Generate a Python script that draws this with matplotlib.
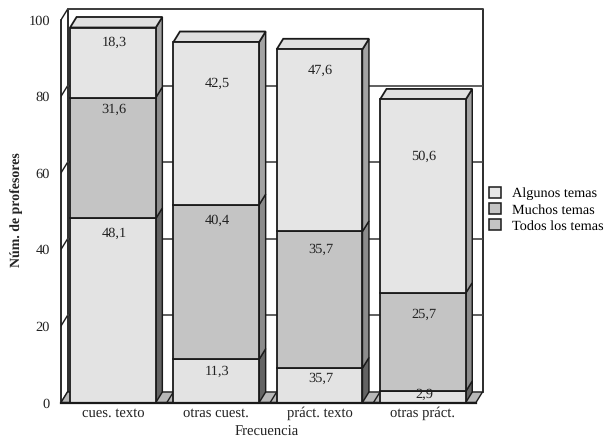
import matplotlib
matplotlib.use('Agg')
import matplotlib.pyplot as plt
from matplotlib.patches import Polygon, Patch

plt.rcParams['font.family'] = ['Liberation Serif', 'DejaVu Serif']
plt.rcParams['text.hinting'] = 'no_hinting'

categories = ['cues. texto', 'otras cuest.', 'práct. texto', 'otras práct.']
series_names = ['Todos los temas', 'Muchos temas', 'Algunos temas']
todos = [48.1, 11.3, 9.0, 2.9]
muchos = [31.6, 40.4, 35.7, 25.7]
algunos = [18.3, 42.5, 47.6, 50.6]
# printed labels, the third bar prints 35,7 on its short bottom segment
todos_labels = ['48,1', '11,3', '35,7', '2,9']
muchos_labels = ['31,6', '40,4', '35,7', '25,7']
algunos_labels = ['18,3', '42,5', '47,6', '50,6']
# height of each label on the value axis
todos_label_y = [44.3, 8.0, 6.4, 2.0]
muchos_label_y = [76.5, 47.7, 40.1, 23.1]
algunos_label_y = [94.2, 83.3, 86.7, 64.2]
yticks = [0, 20, 40, 60, 80, 100]

front = {'Todos los temas': '#e3e3e3', 'Muchos temas': '#c4c4c4', 'Algunos temas': '#e5e5e5'}
legend_colors = ['#e5e5e5', '#c4c4c4', '#c4c4c4']
side = ['#636363', '#8c8c8c', '#a3a3a3']
dx, dy = 0.063, 2.75
width = 0.83

fig = plt.figure(figsize=(6.07, 4.4), dpi=100)
W, H = 607.0, 440.0
ax = fig.add_axes([61 / W, 1 - 402.5 / H, 421.5 / W, 394.5 / H])
x0, x1 = -0.503, 3.577
ax.set_xlim(x0, x1)
ax.set_ylim(0, 103.1)
ax.patch.set_visible(False)
for s in ax.spines.values():
    s.set_visible(False)

lw = 1.3
dark = '#1a1a1a'

# back wall and side wall
ax.plot([x0 + dx, x0 + dx, x1, x1], [dy, 100 + dy, 100 + dy, dy], color=dark, lw=lw, zorder=1, clip_on=False)
ax.plot([x0, x0], [0, 100], color=dark, lw=lw, zorder=1, clip_on=False)
ax.plot([x0, x1 - dx], [0, 0], color=dark, lw=lw + 0.3, zorder=5, clip_on=False)
for t in yticks:
    ax.plot([x0, x0 + dx], [t, t + dy], color=dark, lw=1, zorder=1)
    if t > 0:
        ax.plot([x0 + dx, x1], [t + dy, t + dy], color='#444444', lw=1.2, zorder=1)
ax.add_patch(Polygon([(x0, 0), (x0 + dx, dy), (x1, dy), (x1 - dx, 0)], closed=True,
                     facecolor='#b8b8b8', edgecolor=dark, lw=1.0, zorder=1))

positions = range(len(categories))
for i in list(positions)[1:]:
    # floor edges running back from each bar's left corner
    ax.plot([i - width / 2 - dx, i - width / 2], [0, dy], color=dark, lw=1, zorder=2)

bottoms = [0, 0, 0, 0]
for k, (name, vals) in enumerate(zip(series_names, [todos, muchos, algunos])):
    ax.bar(positions, vals, width, bottom=bottoms, color=front[name], edgecolor=dark,
           linewidth=lw, zorder=3, label=name)
    for i in positions:
        r = i + width / 2
        lo, hi = bottoms[i], bottoms[i] + vals[i]
        ax.add_patch(Polygon([(r, lo), (r + dx, lo + dy), (r + dx, hi + dy), (r, hi)], closed=True,
                             facecolor=side[k], edgecolor=dark, lw=lw * 0.8, zorder=2))
        if k == 2:
            l = i - width / 2
            ax.add_patch(Polygon([(l, hi), (l + dx, hi + dy), (r + dx, hi + dy), (r, hi)], closed=True,
                                 facecolor='#e0e0e0', edgecolor=dark, lw=lw, zorder=2))
    bottoms = [b + v for b, v in zip(bottoms, vals)]

for labels, ys in [(todos_labels, todos_label_y), (muchos_labels, muchos_label_y), (algunos_labels, algunos_label_y)]:
    for i, (txt, y) in enumerate(zip(labels, ys)):
        ax.text(i + 0.01, y, txt, ha='center', va='center', fontsize=10.4, color='#222222', zorder=6)

ax.set_xticks(list(positions), categories, fontsize=10.5)
ax.set_yticks(yticks, [str(t) for t in yticks], fontsize=10.4)
ax.tick_params(axis='both', length=0, colors='#222222')
ax.tick_params(axis='x', pad=2.5)
ax.tick_params(axis='y', pad=8)

fig.text(267 / W, 1 - 432 / H, 'Frecuencia', ha='center', va='center', fontsize=10.5, color='#222222')
fig.text(17 / W, 1 - 210 / H, 'Núm. de profesores', rotation=90, ha='center', va='center',
         fontsize=10, fontweight='bold', color='#222222')

handles = [Patch(facecolor=c, edgecolor=dark, linewidth=1.1) for c in legend_colors]
fig.legend(handles, list(reversed(series_names)), loc='upper left', bbox_to_anchor=(486.5 / W, 1 - 184 / H),
           frameon=False, fontsize=10.3, handlelength=0.8, handleheight=0.8, handletextpad=0.75,
           labelspacing=0.2, borderpad=0.2, borderaxespad=0)

fig.savefig('out.png', dpi=100)
